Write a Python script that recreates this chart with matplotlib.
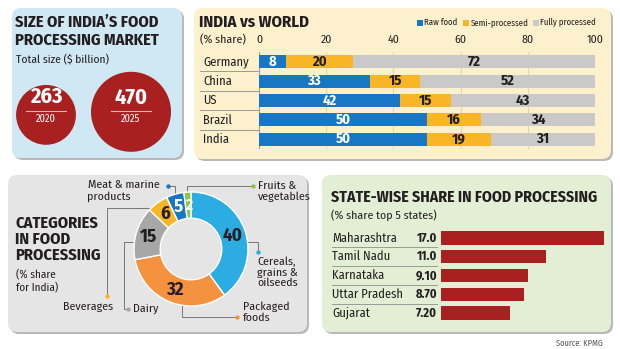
import numpy as np
import matplotlib
matplotlib.use("Agg")
import matplotlib.pyplot as plt
from matplotlib.patches import FancyBboxPatch
from matplotlib.transforms import blended_transform_factory

# ---- data ----
market_years = ["2020", "2025"]
market_size = [263, 470]

countries = ["Germany", "China", "US", "Brazil", "India"]
raw_food = [8, 33, 42, 50, 50]
semi_processed = [20, 15, 15, 16, 19]
fully_processed = [72, 52, 43, 34, 31]
world_ticks = [0, 20, 40, 60, 80, 100]

categories = ["Cereals,\ngrains &\noilseeds", "Packaged\nfoods", "Dairy",
              "Beverages", "Meat & marine\nproducts", "Fruits &\nvegetables"]
cat_share = [40, 32, 15, 6, 5, 2]

states = ["Maharashtra", "Tamil Nadu", "Karnataka", "Uttar Pradesh", "Gujarat"]
state_share = [17.0, 11.0, 9.10, 8.70, 7.20]

# ---- style ----
TITLE = ["Fira Sans Condensed", "Archivo Narrow", "DejaVu Sans"]
BODY = ["Fira Sans Condensed", "Archivo Narrow", "DejaVu Sans"]
DARK = "#231f20"
RED = "#a8201f"
BLUE = "#1877c4"
YELLOW = "#f8b526"
GREY = "#c9c9c9"
CYAN = "#2bace2"
ORANGE = "#f59240"
DGREY = "#a7a7a7"
GREEN = "#8dc63f"

W, H = 620, 349
fig = plt.figure(figsize=(W / 100, H / 100), dpi=100)
fig.patch.set_facecolor("white")

bg = fig.add_axes([0, 0, 1, 1])
bg.set_xlim(0, W)
bg.set_ylim(H, 0)
bg.axis("off")


def px_rect(x, y, w, h):
    return [x / W, 1 - (y + h) / H, w / W, h / H]


def panel(x, y, w, h, color):
    shadow = FancyBboxPatch((x + 2, y + 2), w, h, boxstyle="round,pad=0,rounding_size=9",
                            fc="#b9b9b9", ec="none", zorder=0)
    box = FancyBboxPatch((x, y), w, h, boxstyle="round,pad=0,rounding_size=9",
                         fc=color, ec="none", zorder=1)
    bg.add_patch(shadow)
    bg.add_patch(box)


panel(12, 8, 170, 150, "#cfe8f4")
panel(194, 8, 417, 151, "#fdf0cd")
panel(8, 175, 299, 157, "#e5e5e5")
panel(322, 175, 289, 157, "#e2efd4")

# ---- panel 1: market size ----
bg.text(15, 22, "SIZE OF INDIA\u2019S FOOD", family=TITLE, weight="bold", fontsize=11.8,
        color=DARK, va="center", zorder=3)
bg.text(15, 40, "PROCESSING MARKET", family=TITLE, weight="bold", fontsize=11.8,
        color=DARK, va="center", zorder=3)
bg.text(16, 60, "Total size ($ billion)", family=BODY, fontsize=8.3, color=DARK,
        va="center", zorder=3)

ax1 = fig.add_axes(px_rect(12, 70, 170, 88))
ax1.set_xlim(-0.4, 1.6)
ax1.set_ylim(-1, 1)
ax1.axis("off")
xs = np.arange(len(market_size))
ax1.scatter(xs, [-0.02, 0.05], s=[7.06 * v for v in market_size], color=RED, zorder=2,
            linewidths=0)
for i, (yr, v) in enumerate(zip(market_years, market_size)):
    ax1.text(i, 0.38, str(v), family=TITLE, weight="bold", fontsize=16, color="white",
             ha="center", va="center", zorder=3)
    ax1.plot([i - 0.24, i + 0.24], [0.07, 0.07], color="#e8b0aa", lw=0.8, zorder=3)
    ax1.text(i, -0.12, yr, family=BODY, fontsize=7.5, color="white", ha="center",
             va="center", zorder=3)

# ---- panel 2: India vs world ----
bg.text(199, 22, "INDIA vs WORLD", family=TITLE, weight="bold", fontsize=12, color=DARK,
        va="center", zorder=3)
bg.text(200, 40, "(% share)", family=BODY, fontsize=8.5, color=DARK, va="center", zorder=3)

legend_items = [("Raw food", BLUE, 417), ("Semi-processed", YELLOW, 463),
                ("Fully processed", GREY, 533)]
for lab, col, lx in legend_items:
    bg.add_patch(plt.Rectangle((lx, 19.5), 6, 6, fc=col, ec="none", zorder=3))
    bg.text(lx + 7.5, 22.5, lab, family=BODY, fontsize=6.3, color=DARK, va="center", zorder=3)

ax2 = fig.add_axes(px_rect(259, 52, 336, 97))
ax2.set_facecolor("none")
y = np.arange(len(countries))
raw = np.array(raw_food)
semi = np.array(semi_processed)
full = np.array(fully_processed)
bh = 0.68
ax2.barh(y, raw, height=bh, color=BLUE, zorder=2)
ax2.barh(y, semi, left=raw, height=bh, color=YELLOW, zorder=2)
ax2.barh(y, full, left=raw + semi, height=bh, color=GREY, zorder=2)
for i in range(len(countries)):
    ax2.text(raw[i] / 2, i, str(raw[i]), ha="center", va="center", color="white",
             family=TITLE, weight="bold", fontsize=10.5, zorder=3)
    ax2.text(raw[i] + semi[i] / 2, i, str(semi[i]), ha="center", va="center", color=DARK,
             family=TITLE, weight="bold", fontsize=10.5, zorder=3)
    ax2.text(raw[i] + semi[i] + full[i] / 2, i, str(full[i]), ha="center", va="center",
             color=DARK, family=TITLE, weight="bold", fontsize=10.5, zorder=3)
ax2.set_xlim(0, 100)
ax2.set_ylim(len(countries) - 0.5, -0.5)
ax2.xaxis.tick_top()
ax2.set_xticks(world_ticks)
ax2.set_xticklabels([str(t) for t in world_ticks], family=BODY, fontsize=8.5, color=DARK)
ax2.tick_params(axis="x", length=0, pad=5)
ax2.set_yticks([])
for s in ax2.spines.values():
    s.set_visible(False)
for t in world_ticks[1:-1]:
    ax2.axvline(t, color="#e3d6b0", lw=0.8, zorder=1)
ax2.axvline(0, color="#9a9a9a", lw=0.8, zorder=1)
tr2 = blended_transform_factory(bg.transData, ax2.transData)
for i, c in enumerate(countries):
    ax2.text(203, i, c, transform=tr2, family=BODY, fontsize=9, color=DARK,
             ha="left", va="center", clip_on=False)
    if i < len(countries) - 1:
        ax2.plot([200, 258], [i + 0.5, i + 0.5], transform=tr2, color="#9a9a9a", lw=0.7,
                 clip_on=False)

# ---- panel 3: categories donut ----
for k, line in enumerate(["CATEGORIES", "IN FOOD", "PROCESSING"]):
    bg.text(15, 223 + k * 16, line, family=TITLE, weight="bold", fontsize=11.8,
            color=DARK, va="center", zorder=3)
bg.text(16, 275, "(% share", family=BODY, fontsize=8, color=DARK, va="center", zorder=3)
bg.text(16, 288, "for India)", family=BODY, fontsize=8, color=DARK, va="center", zorder=3)

cat_colors = [CYAN, ORANGE, DGREY, YELLOW, BLUE, GREEN]
cat_text = [DARK, DARK, DARK, DARK, "white", "white"]
ax3 = fig.add_axes(px_rect(191 - 57, 249 - 57, 114, 114))
wedges, _ = ax3.pie(cat_share, colors=cat_colors, startangle=90, counterclock=False,
                    radius=1, wedgeprops=dict(width=0.46, edgecolor="white", linewidth=1))
ax3.set_xlim(-1, 1)
ax3.set_ylim(-1, 1)
for w, v, tc in zip(wedges, cat_share, cat_text):
    ang = np.deg2rad((w.theta1 + w.theta2) / 2)
    r = 0.77
    ax3.text(r * np.cos(ang), r * np.sin(ang), str(v), ha="center", va="center", color=tc,
             family=TITLE, weight="bold", fontsize=13.5 if v > 2 else 11, zorder=3)

# leader lines (pixel layout)
leaders = [
    ([(248, 242), (258, 242), (258, 252)], CYAN, (257, 257), "left", "top"),
    ([(182, 298), (182, 317), (237, 317)], ORANGE, (243, 302), "left", "top"),
    ([(133, 242), (124, 242), (124, 309), (128, 309)], DGREY, (133, 309), "left", "center"),
    ([(149, 208), (107, 208), (107, 296)], YELLOW, (88, 307), "center", "center"),
    ([(175, 196), (175, 186), (168, 186)], BLUE, (160, 184), "right", "center"),
    ([(187, 193), (187, 186), (253, 186)], GREEN, (258, 181), "left", "top"),
]
for (pts, col, tpos, ha, va), lab in zip(leaders, categories):
    xs_l = [p[0] for p in pts]
    ys_l = [p[1] for p in pts]
    bg.plot(xs_l, ys_l, color="#777777", lw=0.7, zorder=3)
    bg.scatter([xs_l[-1]], [ys_l[-1]], s=10, color=col, zorder=4, linewidths=0)
    if lab.startswith("Meat"):
        bg.text(160, 185, "Meat & marine", family=BODY, fontsize=8.5, color=DARK,
                ha="right", va="center", zorder=3)
        bg.text(87, 197, "products", family=BODY, fontsize=8.5, color=DARK,
                ha="left", va="center", zorder=3)
        continue
    bg.text(tpos[0], tpos[1], lab, family=BODY, fontsize=8.5, color=DARK, ha=ha, va=va,
            linespacing=0.95, zorder=3)

# ---- panel 4: state-wise ----
bg.text(331, 197, "STATE-WISE SHARE IN FOOD PROCESSING", family=TITLE, weight="bold",
        fontsize=11.3, color=DARK, va="center", zorder=3)
bg.text(331, 215, "(% share top 5 states)", family=BODY, fontsize=8.5, color=DARK,
        va="center", zorder=3)

ax4 = fig.add_axes(px_rect(441, 228.6, 163, 93.8))
ax4.set_facecolor("none")
ys = np.arange(len(states))
ax4.barh(ys, state_share, height=0.7, color=RED)
ax4.set_xlim(0, max(state_share))
ax4.set_ylim(len(states) - 0.5, -0.5)
ax4.axis("off")
tr4 = blended_transform_factory(bg.transData, ax4.transData)
for i, (s, v) in enumerate(zip(states, state_share)):
    ax4.text(332, i, s, transform=tr4, family=BODY, fontsize=9, color=DARK,
             ha="left", va="center", clip_on=False)
    val = f"{v:.1f}" if v >= 10 else f"{v:.2f}"
    ax4.text(437, i, val, transform=tr4, family=TITLE, weight="bold", fontsize=9,
             color=DARK, ha="right", va="center", clip_on=False)
    if i < len(states) - 1:
        ax4.plot([332, 437], [i + 0.5, i + 0.5], transform=tr4, color="#9a9a9a", lw=0.7,
                 clip_on=False)

bg.text(603, 343, "Source: KPMG", family=BODY, fontsize=6, color="#555555",
        ha="right", va="center")

fig.savefig("out.png", dpi=100)
